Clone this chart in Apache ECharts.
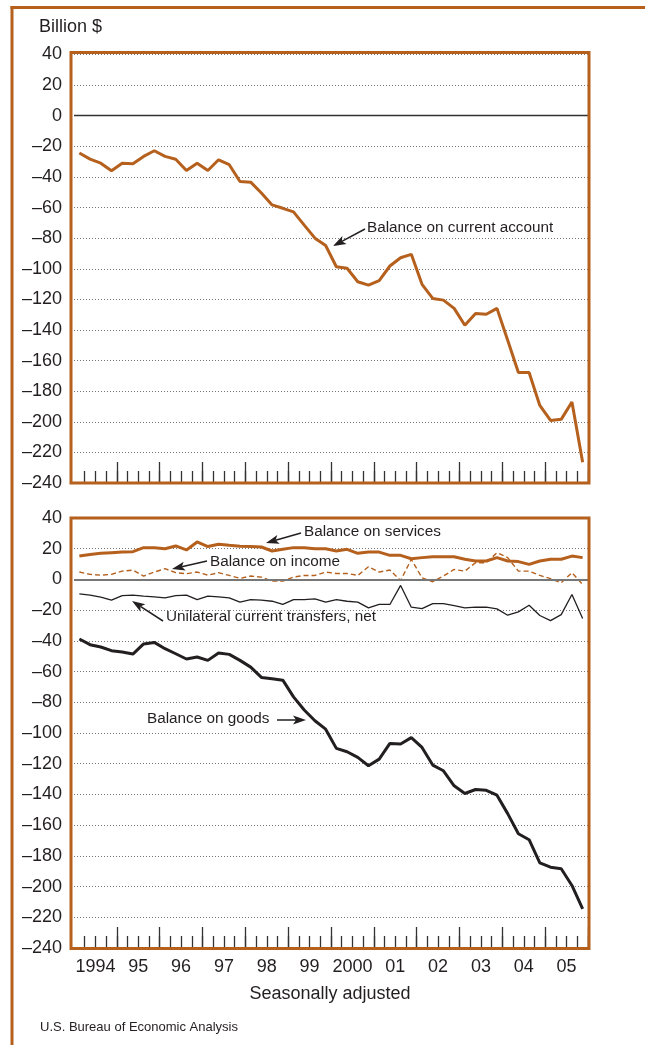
<!DOCTYPE html>
<html>
<head>
<meta charset="utf-8">
<title>U.S. international transactions</title>
<script src="https://cdn.jsdelivr.net/npm/echarts@6/dist/echarts.min.js"></script>
<style>
html, body { margin: 0; padding: 0; background: #ffffff; }
#chart { width: 645px; height: 1045px; }
</style>
</head>
<body>
<div id="chart"></div>
<script>
// categories: one per quarter, 1994Q1 - 2005Q4
var years = ['1994', '95', '96', '97', '98', '99', '2000', '01', '02', '03', '04', '05'];
var quarters = [];
for (var yr = 1994; yr <= 2005; yr++) {
  for (var q = 1; q <= 4; q++) quarters.push(yr + 'Q' + q);
}

// billions of dollars
var currentAccount = [-24.4, -28.4, -31, -36, -31, -31.4, -26.6, -22.9, -26.6, -28.4,
  -35.8, -31, -35.8, -28.8, -32, -43, -43.4, -50.5, -58.3, -60.5,
  -62.8, -71.5, -80, -84.8, -98.7, -99.7, -108.5, -110.7, -107.8, -98.2,
  -92.8, -90.6, -110.2, -119.4, -120.5, -125.9, -136.9, -129.2, -129.7, -125.9,
  -146.7, -167.8, -167.8, -189.3, -199.1, -198.4, -187.1, -226.4];
var goods = [-38.8, -42.5, -44, -46.4, -47.3, -48.6, -42, -41, -45.1, -48.4,
  -51.8, -50.5, -52.7, -47.9, -48.8, -52.7, -57.1, -63.8, -64.7, -65.6,
  -76.5, -85, -92, -97.5, -110, -112.2, -115.9, -121.3, -117, -106.8,
  -107.2, -103, -109.4, -120.9, -124.6, -134.4, -139.4, -136.8, -137.3, -140.5,
  -152.5, -165.6, -169.5, -184.5, -187.4, -188.4, -199.3, -214.6];
var services = [15.2, 16.3, 17, 17.4, 17.8, 18.1, 20.7, 20.7, 20, 21.8,
  19.2, 24.4, 21.4, 22.9, 22.2, 21.6, 21.4, 21.1, 18.5, 19.6,
  20.7, 20.7, 20, 20, 18.5, 19.6, 17, 17.8, 17.8, 15.7,
  15.7, 13.5, 14.2, 14.8, 14.8, 14.8, 13.1, 12, 12, 14.2,
  12, 11.6, 9.8, 12, 13.1, 13.1, 15.2, 14.2];
var income = [4.8, 3.3, 2.8, 3.3, 5.4, 6.1, 2.2, 4.8, 7, 4.4,
  3.7, 4.8, 2.8, 4.4, 2.6, 0.7, 2.2, 1.5, -1.1, -1.1,
  1.5, 2.6, 2.6, 4.8, 3.9, 3.9, 2.6, 8.3, 4.8, 6.1,
  -0.7, 13.1, 1.1, -1.5, 2.2, 6.5, 5.4, 10.9, 10.9, 17.4,
  14.2, 5.4, 5.4, 2.6, 0.5, -2.2, 4.4, -3.3];
var transfers = [-9.4, -10.2, -11.5, -13.5, -10.5, -10.2, -10.9, -11.3, -12, -10.5,
  -10.2, -13.1, -10.9, -11.3, -12, -14.8, -13.1, -13.5, -14.2, -16.3,
  -13.1, -13.1, -12.6, -14.8, -13.1, -14.2, -14.8, -18.5, -16.3, -16.3,
  -3.9, -18.1, -19, -15.7, -15.7, -17, -18.5, -18.1, -18.1, -19.2,
  -23.3, -21.1, -16.8, -23.5, -26.8, -22.9, -9.8, -25.5];

var orange = '#B5601D';
var ink = '#231F20';
var font = '"Liberation Sans", Arial, Helvetica, sans-serif';

var chart = echarts.init(document.getElementById('chart'));

function yAxisCfg(g) {
  return {
    type: 'value', gridIndex: g, min: -240, max: 40, interval: 20,
    axisLine: { show: false }, axisTick: { show: false },
    axisLabel: {
      fontSize: 18, color: ink, margin: 12, fontFamily: font,
      formatter: function (v) { return String(v).replace('-', '\u2013'); }
    },
    splitLine: { lineStyle: { color: '#777', width: 1, type: [1, 2] } }
  };
}

// minor ticks at quarter boundaries
function quarterAxis(g) {
  return {
    type: 'category', gridIndex: g, data: quarters, boundaryGap: true, position: 'bottom',
    axisLine: { show: false, onZero: false }, axisLabel: { show: false }, splitLine: { show: false },
    axisTick: {
      show: true, inside: true, length: 12,
      interval: function (i) { return i > 0; },
      lineStyle: { color: '#333', width: 1.3 }
    }
  };
}

// long ticks at year boundaries + year labels
function yearAxis(g, showLabel) {
  return {
    type: 'category', gridIndex: g, data: years, boundaryGap: true, position: 'bottom',
    axisLine: { show: false, onZero: false }, splitLine: { show: false },
    axisLabel: { show: showLabel, interval: 0, fontSize: 18, color: ink, margin: 10, fontFamily: font },
    axisTick: {
      show: true, inside: true, length: 21,
      interval: function (i) { return i > 0; },
      lineStyle: { color: '#333', width: 1.3 }
    }
  };
}

function zeroLine(color, width) {
  return {
    silent: true, symbol: ['none', 'none'], label: { show: false },
    lineStyle: { color: color, width: width, type: 'solid' },
    data: [{ yAxis: 0 }]
  };
}

function arrow(x1, y1, x2, y2) {
  var a = Math.atan2(y2 - y1, x2 - x1);
  var L = 13, W = 4.5;
  var c = Math.cos(a), s = Math.sin(a);
  var bx = x2 - L * c, by = y2 - L * s;
  var nx = x2 - (L - 3) * c, ny = y2 - (L - 3) * s;
  return [
    { type: 'line', z: 50, shape: { x1: x1, y1: y1, x2: nx, y2: ny }, style: { stroke: ink, lineWidth: 1.5 } },
    { type: 'polygon', z: 50, shape: { points: [[x2, y2], [bx - W * s, by + W * c], [nx, ny], [bx + W * s, by - W * c]] },
      style: { fill: ink } }
  ];
}

function label(x, y, text, size) {
  return {
    type: 'text', x: x, y: y, z: 50,
    style: { text: text, fill: ink, fontSize: size, fontFamily: font, align: 'left', verticalAlign: 'middle' }
  };
}

var graphics = [
  // decorative rule at top and left
  { type: 'line', z: 40, shape: { x1: 10.5, y1: 7.5, x2: 645, y2: 7.5 }, style: { stroke: orange, lineWidth: 3 } },
  { type: 'line', z: 40, shape: { x1: 12, y1: 6, x2: 12, y2: 1045 }, style: { stroke: orange, lineWidth: 3 } },
  // panel frames
  { type: 'rect', z: 40, shape: { x: 71, y: 52.5, width: 518, height: 430.5 }, style: { fill: 'none', stroke: orange, lineWidth: 3 } },
  { type: 'rect', z: 40, shape: { x: 71, y: 518, width: 518, height: 430.5 }, style: { fill: 'none', stroke: orange, lineWidth: 3 } },
  label(39, 27, 'Billion $', 18),
  label(367, 228, 'Balance on current account', 15.3),
  label(304, 532, 'Balance on services', 15.3),
  label(210, 562, 'Balance on income', 15.3),
  label(166, 617, 'Unilateral current transfers, net', 15.3),
  label(147, 719, 'Balance on goods', 15.3),
  { type: 'text', x: 330, y: 994, z: 50,
    style: { text: 'Seasonally adjusted', fill: ink, fontSize: 18, fontFamily: font, align: 'center', verticalAlign: 'middle' } },
  label(40, 1027, 'U.S. Bureau of Economic Analysis', 13)
].concat(
  arrow(365, 229, 333, 246),
  arrow(301, 533, 266, 543),
  arrow(207, 561, 172, 569),
  arrow(163, 621, 132, 601),
  arrow(277, 720, 306, 720)
);

var option = {
  animation: false,
  textStyle: { fontFamily: font },
  grid: [
    { left: 74, right: 57, top: 54.5, height: 428.5 },
    { left: 74, right: 57, top: 518, height: 430 }
  ],
  xAxis: [quarterAxis(0), yearAxis(0, false), quarterAxis(1), yearAxis(1, true)],
  yAxis: [yAxisCfg(0), yAxisCfg(1)],
  series: [
    {
      name: 'Balance on current account', type: 'line', xAxisIndex: 0, yAxisIndex: 0,
      data: currentAccount, symbol: 'none', lineStyle: { color: orange, width: 3 },
      markLine: zeroLine('#333', 1.4)
    },
    {
      name: 'Unilateral current transfers, net', type: 'line', xAxisIndex: 2, yAxisIndex: 1,
      data: transfers, symbol: 'none', lineStyle: { color: ink, width: 1.3 },
      markLine: zeroLine('#777', 2)
    },
    {
      name: 'Balance on income', type: 'line', xAxisIndex: 2, yAxisIndex: 1,
      data: income, symbol: 'none', lineStyle: { color: orange, width: 1.4, type: [5, 3] }
    },
    {
      name: 'Balance on services', type: 'line', xAxisIndex: 2, yAxisIndex: 1,
      data: services, symbol: 'none', lineStyle: { color: orange, width: 3 }
    },
    {
      name: 'Balance on goods', type: 'line', xAxisIndex: 2, yAxisIndex: 1,
      data: goods, symbol: 'none', lineStyle: { color: ink, width: 3 }
    }
  ],
  graphic: graphics
};

chart.setOption(option);
</script>
</body>
</html>
